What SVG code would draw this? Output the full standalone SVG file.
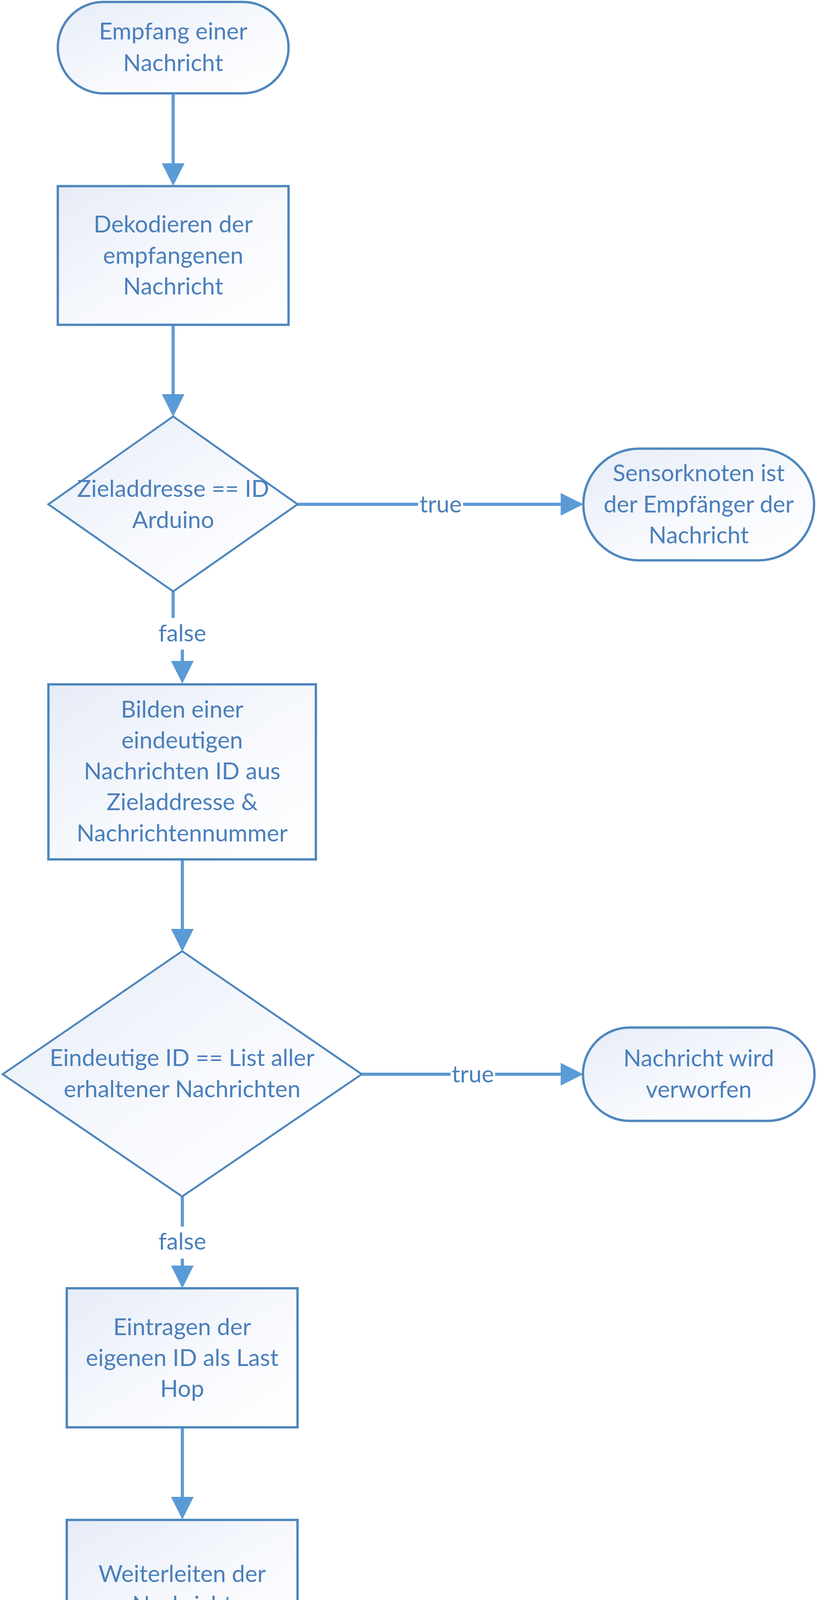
<svg xmlns="http://www.w3.org/2000/svg" width="2095" height="4776" viewBox="0 0 2095 4776">
  <style>
    .shape { fill: url(#fillGrad); stroke: #4f87bd; stroke-width: 6; }
    .diamond { fill: url(#fillGrad); stroke: #4f87bd; stroke-width: 5; stroke-linejoin: miter; }
    .conn { fill: none; stroke: #5b9bd5; stroke-width: 8; }
    .lbl { font-family: Lato, "Liberation Sans", sans-serif; font-size: 60px; fill: #4a7fbb; text-anchor: middle; }
    .lblbg { fill: #ffffff; stroke: none; }
  </style>
  <defs>
    <linearGradient id="fillGrad" x1="0" y1="0" x2="1" y2="1">
      <stop offset="0" stop-color="#e6ecf7"/>
      <stop offset="0.55" stop-color="#f7f9fd"/>
      <stop offset="1" stop-color="#ffffff"/>
    </linearGradient>
    <marker id="arrow" markerUnits="userSpaceOnUse" viewBox="0 0 58 58" refX="0" refY="29" markerWidth="58" markerHeight="58" orient="auto">
      <path d="M0,0 L58,29 L0,58 Z" fill="#5b9bd5"/>
    </marker>
  </defs>

  <g id="connectors">
    <path class="conn" d="M443.5,240 V418" marker-end="url(#arrow)"/>
    <path class="conn" d="M443.5,832 V1009" marker-end="url(#arrow)"/>
    <path class="conn" d="M762,1291 H1436" marker-end="url(#arrow)"/>
    <path class="conn" d="M443.5,1514 V1622 H467 V1692" marker-end="url(#arrow)"/>
    <path class="conn" d="M467,2200 V2378" marker-end="url(#arrow)"/>
    <path class="conn" d="M926.5,2750 H1436" marker-end="url(#arrow)"/>
    <path class="conn" d="M467,3063 V3240" marker-end="url(#arrow)"/>
    <path class="conn" d="M467,3654 V3832" marker-end="url(#arrow)"/>
    <path class="conn" d="M467,4244 V4423" marker-end="url(#arrow)"/>
    <g id="label-true-1">
      <rect class="lblbg" x="1071" y="1252" width="115" height="80"/>
      <text class="lbl" x="1128.5" y="1312">true</text>
    </g>
    <g id="label-false-1">
      <rect class="lblbg" x="404" y="1582" width="126" height="81"/>
      <text class="lbl" x="467" y="1642">false</text>
    </g>
    <g id="label-true-2">
      <rect class="lblbg" x="1154" y="2711" width="114" height="80"/>
      <text class="lbl" x="1211" y="2771">true</text>
    </g>
    <g id="label-false-2">
      <rect class="lblbg" x="404" y="3140" width="126" height="82"/>
      <text class="lbl" x="467" y="3199">false</text>
    </g>
  </g>

  <g id="start">
    <rect class="shape" x="148" y="5" width="591" height="234" rx="117" ry="117"/>
    <text class="lbl"><tspan x="443.5" y="101">Empfang einer</tspan><tspan x="443.5" y="182">Nachricht</tspan></text>
  </g>

  <g id="decode">
    <rect class="shape" x="148" y="476.5" width="591" height="355"/>
    <text class="lbl"><tspan x="443.5" y="595">Dekodieren der</tspan><tspan x="443.5" y="675">empfangenen</tspan><tspan x="443.5" y="754">Nachricht</tspan></text>
  </g>

  <g id="check-target">
    <polygon class="diamond" points="443.5,1066 762,1291 443.5,1514 124,1291"/>
    <text class="lbl"><tspan x="443.5" y="1272">Zieladdresse == ID</tspan><tspan x="443.5" y="1352">Arduino</tspan></text>
  </g>

  <g id="receiver">
    <rect class="shape" x="1494" y="1148.5" width="591" height="286" rx="143" ry="143"/>
    <text class="lbl"><tspan x="1789.5" y="1232">Sensorknoten ist</tspan><tspan x="1789.5" y="1312">der Empfänger der</tspan><tspan x="1789.5" y="1391">Nachricht</tspan></text>
  </g>

  <g id="build-id">
    <rect class="shape" x="124" y="1752" width="685" height="448"/>
    <text class="lbl"><tspan x="466.5" y="1837">Bilden einer</tspan><tspan x="466.5" y="1916">eindeutigen</tspan><tspan x="466.5" y="1995">Nachrichten ID aus</tspan><tspan x="466.5" y="2074">Zieladdresse &amp;</tspan><tspan x="466.5" y="2154">Nachrichtennummer</tspan></text>
  </g>

  <g id="check-list">
    <polygon class="diamond" points="466.5,2435 926.5,2750 466.5,3063 7,2750"/>
    <text class="lbl"><tspan x="466.5" y="2729">Eindeutige ID == List aller</tspan><tspan x="466.5" y="2809">erhaltener Nachrichten</tspan></text>
  </g>

  <g id="discard">
    <rect class="shape" x="1493" y="2630.5" width="593" height="239" rx="119.5" ry="119.5"/>
    <text class="lbl"><tspan x="1789.5" y="2730">Nachricht wird</tspan><tspan x="1789.5" y="2810">verworfen</tspan></text>
  </g>

  <g id="last-hop">
    <rect class="shape" x="171" y="3298" width="591" height="356"/>
    <text class="lbl"><tspan x="466.5" y="3418">Eintragen der</tspan><tspan x="466.5" y="3497">eigenen ID als Last</tspan><tspan x="466.5" y="3576">Hop</tspan></text>
  </g>

  <g id="forward">
    <rect class="shape" x="171" y="3891" width="591" height="353"/>
    <text class="lbl"><tspan x="466.5" y="4050">Weiterleiten der</tspan><tspan x="466.5" y="4129">Nachricht</tspan></text>
  </g>

  <g id="end">
    <rect class="shape" x="171" y="4481" width="591" height="283" rx="141.5" ry="141.5"/>
    <text class="lbl"><tspan x="466.5" y="4562">Nachricht wurde</tspan><tspan x="466.5" y="4642">erfolgreich</tspan><tspan x="466.5" y="4722">weitergeleitet</tspan></text>
  </g>
</svg>
